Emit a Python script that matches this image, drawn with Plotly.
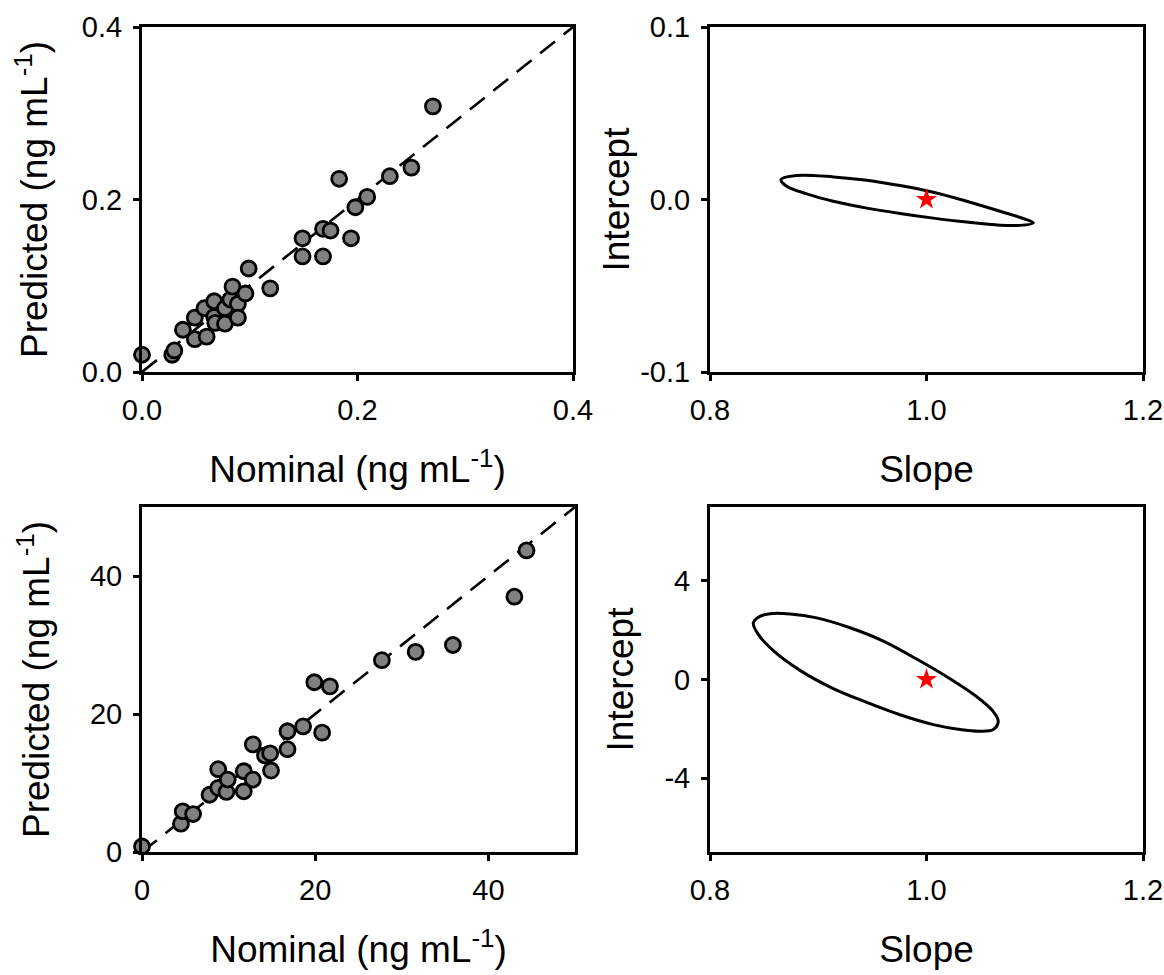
import plotly.graph_objects as go

# ---- data: top-left (low range) ----
nominal_low = [0.000, 0.028, 0.030, 0.038, 0.049, 0.049, 0.058, 0.060, 0.067, 0.067, 0.068,
               0.077, 0.077, 0.082, 0.084, 0.089, 0.089, 0.096, 0.099, 0.119, 0.149, 0.149,
               0.168, 0.168, 0.175, 0.183, 0.194, 0.198, 0.209, 0.230, 0.250, 0.270]
predicted_low = [0.020, 0.020, 0.025, 0.049, 0.063, 0.038, 0.074, 0.041, 0.082, 0.064, 0.057,
                 0.056, 0.074, 0.084, 0.099, 0.079, 0.063, 0.091, 0.120, 0.097, 0.155, 0.134,
                 0.134, 0.166, 0.164, 0.224, 0.155, 0.191, 0.203, 0.227, 0.237, 0.308]
identity_low = [0.0, 0.4]

# ---- data: bottom-left (high range) ----
nominal_high = [0.0, 4.5, 4.7, 5.9, 7.8, 8.8, 8.8, 9.75, 9.9, 11.75, 11.75, 12.8, 12.8, 14.2,
                14.8, 14.9, 16.8, 16.8, 18.6, 19.9, 20.8, 21.7, 27.7, 31.6, 35.9, 43.0, 44.4]
predicted_high = [0.8, 4.1, 5.9, 5.5, 8.3, 12.0, 9.3, 8.7, 10.5, 11.7, 8.8, 15.6, 10.5, 14.0,
                  14.3, 11.8, 17.5, 14.9, 18.2, 24.6, 17.3, 24.0, 27.8, 29.0, 30.0, 37.0, 43.7]
identity_high = [0.0, 50.0]

# ---- data: joint confidence regions (boundary points) ----
ellipse_low_slope = [0.8656, 0.8800, 0.9140, 0.9448, 0.9755, 1.0063, 1.0371, 1.0679, 1.0894,
                     1.0987, 1.0864, 1.0679, 1.0371, 1.0063, 0.9755, 0.9448, 0.9139, 0.8893,
                     0.8708, 0.8656]
ellipse_low_intercept = [0.0116, 0.0139, 0.0131, 0.0112, 0.0081, 0.0042, -0.0010, -0.0068, -0.0110,
                         -0.0135, -0.0150, -0.0149, -0.0131, -0.0108, -0.0081, -0.0050, -0.0010,
                         0.0033, 0.0077, 0.0116]
ellipse_high_slope = [0.8400, 0.8446, 0.8554, 0.8739, 0.8986, 0.9293, 0.9601, 0.9909, 1.0217,
                      1.0464, 1.0617, 1.0663, 1.0617, 1.0494, 1.0309, 1.0063, 0.9755, 0.9448,
                      0.9139, 0.8831, 0.8585, 0.8446, 0.8400]
ellipse_high_intercept = [2.29, 2.53, 2.67, 2.66, 2.50, 2.10, 1.56, 0.83, 0.03, -0.70, -1.30,
                          -1.70, -2.03, -2.10, -2.03, -1.83, -1.43, -0.93, -0.37, 0.37, 1.17,
                          1.83, 2.29]
ideal_point = {"slope": [1.0], "intercept": [0.0]}

# ---- tick labels ----
ticks_low = [0.0, 0.2, 0.4]
ticks_low_text = ["0.0", "0.2", "0.4"]
ticks_high = [0, 20, 40]
ticks_high_text = ["0", "20", "40"]
ticks_slope = [0.8, 1.0, 1.2]
ticks_slope_text = ["0.8", "1.0", "1.2"]
ticks_int_low = [-0.1, 0.0, 0.1]
ticks_int_low_text = ["-0.1", "0.0", "0.1"]
ticks_int_high = [-4, 0, 4]
ticks_int_high_text = ["-4", "0", "4"]

FONT = "Liberation Sans, Arial, sans-serif"
W, H = 1164, 975

fig = go.Figure()

marker_style = dict(size=15, color="#808080", line=dict(color="black", width=2.8))
dash_style = dict(color="black", width=2.6, dash="19px,11px")

fig.add_trace(go.Scatter(x=identity_low, y=identity_low, mode="lines", line=dash_style,
                         xaxis="x", yaxis="y", showlegend=False, hoverinfo="skip"))
fig.add_trace(go.Scatter(x=nominal_low, y=predicted_low, mode="markers", marker=marker_style,
                         xaxis="x", yaxis="y", showlegend=False, cliponaxis=False))

fig.add_trace(go.Scatter(x=ellipse_low_slope, y=ellipse_low_intercept, mode="lines",
                         line=dict(color="black", width=3, shape="spline", smoothing=1.0),
                         xaxis="x2", yaxis="y2", showlegend=False))
fig.add_trace(go.Scatter(x=ideal_point["slope"], y=ideal_point["intercept"], mode="markers",
                         marker=dict(symbol="star", size=16, color="red", line=dict(width=0)),
                         xaxis="x2", yaxis="y2", showlegend=False))

fig.add_trace(go.Scatter(x=identity_high, y=identity_high, mode="lines", line=dash_style,
                         xaxis="x3", yaxis="y3", showlegend=False, hoverinfo="skip"))
fig.add_trace(go.Scatter(x=nominal_high, y=predicted_high, mode="markers", marker=marker_style,
                         xaxis="x3", yaxis="y3", showlegend=False, cliponaxis=False))

fig.add_trace(go.Scatter(x=ellipse_high_slope, y=ellipse_high_intercept, mode="lines",
                         line=dict(color="black", width=3, shape="spline", smoothing=1.0),
                         xaxis="x4", yaxis="y4", showlegend=False))
fig.add_trace(go.Scatter(x=ideal_point["slope"], y=ideal_point["intercept"], mode="markers",
                         marker=dict(symbol="star", size=16, color="red", line=dict(width=0)),
                         xaxis="x4", yaxis="y4", showlegend=False))

# pixel-based domains
def xd(a, b):
    return [a / W, b / W]

def yd(top, bottom):
    return [(H - bottom) / H, (H - top) / H]

common = dict(showline=True, linecolor="black", linewidth=3, mirror=True, ticks="outside",
              ticklen=6, tickwidth=3, tickcolor="black", showgrid=False, zeroline=False,
              automargin=False, tickmode="array",
              tickfont=dict(family=FONT, size=29, color="black"),
              title_font=dict(family=FONT, size=37, color="black"))
xcommon = dict(common, ticklabelstandoff=4)
ycommon = dict(common, ticklabelstandoff=5)

nominal_title = "Nominal (ng mL<sup>-1</sup>)"
predicted_title = "Predicted (ng mL<sup>-1</sup>)"

fig.update_layout(
    width=W, height=H, autosize=False,
    margin=dict(l=0, r=0, t=0, b=0),
    paper_bgcolor="white", plot_bgcolor="white",
    xaxis=dict(domain=xd(142, 573), anchor="y", range=[0, 0.4], tickvals=ticks_low,
               ticktext=ticks_low_text, title=dict(text=nominal_title, standoff=32), **xcommon),
    yaxis=dict(domain=yd(27, 372), anchor="x", range=[0, 0.4], tickvals=ticks_low,
               ticktext=ticks_low_text, title=dict(text=predicted_title, standoff=23), **ycommon),
    xaxis2=dict(domain=xd(710, 1143), anchor="y2", range=[0.8, 1.2], tickvals=ticks_slope,
                ticktext=ticks_slope_text, title=dict(text="Slope", standoff=32), **xcommon),
    yaxis2=dict(domain=yd(27, 372), anchor="x2", range=[-0.1, 0.1], tickvals=ticks_int_low,
                ticktext=ticks_int_low_text, title=dict(text="Intercept", standoff=0), **ycommon),
    xaxis3=dict(domain=xd(142, 575), anchor="y3", range=[0, 50], tickvals=ticks_high,
                ticktext=ticks_high_text, title=dict(text=nominal_title, standoff=32), **xcommon),
    yaxis3=dict(domain=yd(507, 852), anchor="x3", range=[0, 50], tickvals=ticks_high,
                ticktext=ticks_high_text, title=dict(text=predicted_title, standoff=29), **ycommon),
    xaxis4=dict(domain=xd(710, 1143), anchor="y4", range=[0.8, 1.2], tickvals=ticks_slope,
                ticktext=ticks_slope_text, title=dict(text="Slope", standoff=32), **xcommon),
    yaxis4=dict(domain=yd(507, 852), anchor="x4", range=[-7, 7], tickvals=ticks_int_high,
                ticktext=ticks_int_high_text, title=dict(text="Intercept", standoff=20), **ycommon),
)

fig.write_html("out.html")
